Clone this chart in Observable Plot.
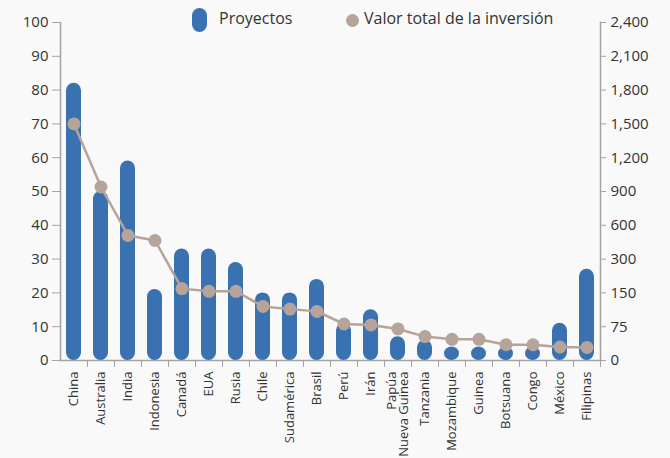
<!DOCTYPE html>
<html><head><meta charset="utf-8">
<script src="https://cdn.jsdelivr.net/npm/d3@7"></script>
<script src="https://cdn.jsdelivr.net/npm/@observablehq/plot@0.6"></script>
<style>
body{margin:0;background:#f9f9f9;font-family:"Open Sans",sans-serif;}
#wrap{position:relative;width:670px;height:458px;overflow:hidden;}
.lg{position:absolute;color:#333;font-size:16px;white-space:nowrap;}
</style></head><body><div id="wrap"></div>
<script>
const countries = ["China","Australia","India","Indonesia","Canadá","EUA","Rusia","Chile","Sudamérica","Brasil","Perú","Irán","Papúa\nNueva Guinea","Tanzania","Mozambique","Guinea","Botsuana","Congo","México","Filipinas"];
const projects = [82,50,59,21,33,33,29,20,20,24,11,15,7,6,4,4,4,4,11,27];
const investment = [1500,940,510,465,169,157,157,120,114,109,81,79,70,53,47,47,35,35,30,29];
const leftTicks = [0,10,20,30,40,50,60,70,80,90,100];
const rightTicks = [0,75,150,300,600,900,1200,1500,1800,2100,2400];
const seriesNames = ["Proyectos","Valor total de la inversión"];

const toLeft = d3.scaleLinear().domain(rightTicks).range(leftTicks);
const data = countries.map((c,i)=>({country:c, projects:projects[i], investment:investment[i], pos:toLeft(investment[i])}));
const fmt = d3.format(",");
const blue = "#3a71b1", taupe = "#b6a39a", axisCol = "#a3a3a3";

const chart = Plot.plot({
  width:670, height:458, marginLeft:60, marginRight:70, marginTop:22, marginBottom:98,
  style:{background:"transparent", fontFamily:'"Open Sans",sans-serif', fontSize:"15px", color:"#333", overflow:"visible"},
  x:{domain:countries, padding:0, label:null},
  y:{domain:[0,100], label:null},
  marks:[
    Plot.frame({anchor:"left", stroke:axisCol, strokeWidth:1.5}),
    Plot.frame({anchor:"right", stroke:axisCol, strokeWidth:1.5}),
    Plot.frame({anchor:"bottom", stroke:axisCol, strokeWidth:1.5}),
    Plot.barY(data,{x:"country", y:"projects", fill:blue, insetLeft:6, insetRight:6, rx:7.5}),
    Plot.line(data,{x:"country", y:"pos", stroke:taupe, strokeWidth:2.5}),
    Plot.dot(data,{x:"country", y:"pos", r:6.5, fill:taupe, stroke:"none"}),
    Plot.axisY({ticks:leftTicks, tickSize:8, tickPadding:4, stroke:axisCol, tickFormat:d=>String(d), fontSize:15, label:null}),
    Plot.axisY({anchor:"right", ticks:leftTicks, tickSize:5, tickPadding:5, stroke:axisCol, tickFormat:d=>fmt(rightTicks[leftTicks.indexOf(d)]), fontSize:15, label:null}),
    Plot.axisX({tickSize:0, tickRotate:-90, tickPadding:11, fontSize:13, lineHeight:0.95, label:null}),
    Plot.axisX({tickSize:7, stroke:axisCol, tickFormat:()=>"", dx:13.5, label:null})
  ]
});
const wrap = document.getElementById("wrap");
wrap.appendChild(chart);
const legend = [
  {html:`<div style="position:absolute;left:192px;top:8px;width:15px;height:24px;border-radius:7.5px;background:${blue}"></div>`},
  {html:`<div class="lg" style="left:219px;top:7px">${seriesNames[0]}</div>`},
  {html:`<div style="position:absolute;left:346px;top:13.5px;width:13px;height:13px;border-radius:50%;background:${taupe}"></div>`},
  {html:`<div class="lg" style="left:364px;top:7px">${seriesNames[1]}</div>`}
];
legend.forEach(l=>wrap.insertAdjacentHTML("beforeend", l.html));
</script></body></html>
